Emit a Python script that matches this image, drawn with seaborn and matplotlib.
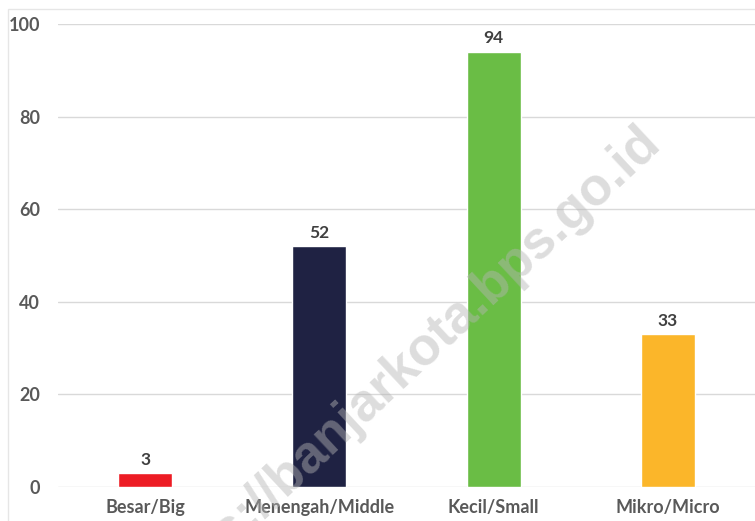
import pandas as pd
import matplotlib.pyplot as plt
import seaborn as sns
from matplotlib.patches import Rectangle

# Data
categories = ["Besar/Big", "Menengah/Middle", "Kecil/Small", "Mikro/Micro"]
values = [3, 52, 94, 33]
colors = ["#ED1C24", "#1F2243", "#6ABD45", "#FBB62A"]
yticks = [0, 20, 40, 60, 80, 100]

df = pd.DataFrame({"kategori": categories, "jumlah": values})

sns.set_style("white")
plt.rcParams["font.family"] = ["Lato", "DejaVu Sans"]

fig = plt.figure(figsize=(7.55, 5.21), dpi=100)
ax = fig.add_axes([0.0768, 0.0653, 0.9232, 0.8887])

sns.barplot(data=df, x="kategori", y="jumlah", hue="kategori",
            palette=colors, saturation=1, width=0.31, legend=False,
            ax=ax, zorder=3)

ax.set_ylim(0, 100)
ax.set_xlim(-0.5, 3.5)
ax.set_yticks(yticks)
ax.set_yticklabels([str(t) for t in yticks])
ax.grid(axis="y", color="#d9d9d9", linewidth=1, zorder=0)
ax.set_axisbelow(True)
sns.despine(ax=ax, left=True, bottom=True)
ax.set_xlabel("")
ax.set_ylabel("")
ax.tick_params(axis="both", length=0)
ax.tick_params(axis="y", pad=13)
ax.tick_params(axis="x", pad=9)
for lbl in ax.get_yticklabels() + ax.get_xticklabels():
    lbl.set_fontweight("bold")
    lbl.set_color("#595959")
    lbl.set_fontsize(13)

# value labels
for i, v in enumerate(values):
    ax.text(i, v + 1.2, str(v), ha="center", va="bottom",
            fontsize=12.5, fontweight="bold", color="#404040")

# watermark
fig.text(0.864, 0.742, "https://banjarkota.bps.go.id", fontsize=38,
         fontweight="bold", family="Liberation Sans", color=(0.71, 0.71, 0.71),
         alpha=0.46, rotation=43, rotation_mode="anchor",
         ha="right", va="center", zorder=10)

# faint chart border
fig.patches.append(Rectangle((0.011, -0.1), 1.1, 1.082, transform=fig.transFigure,
                             fill=False, edgecolor="#e6e6e6", linewidth=1))

plt.savefig("out.png", dpi=100)
plt.close()
